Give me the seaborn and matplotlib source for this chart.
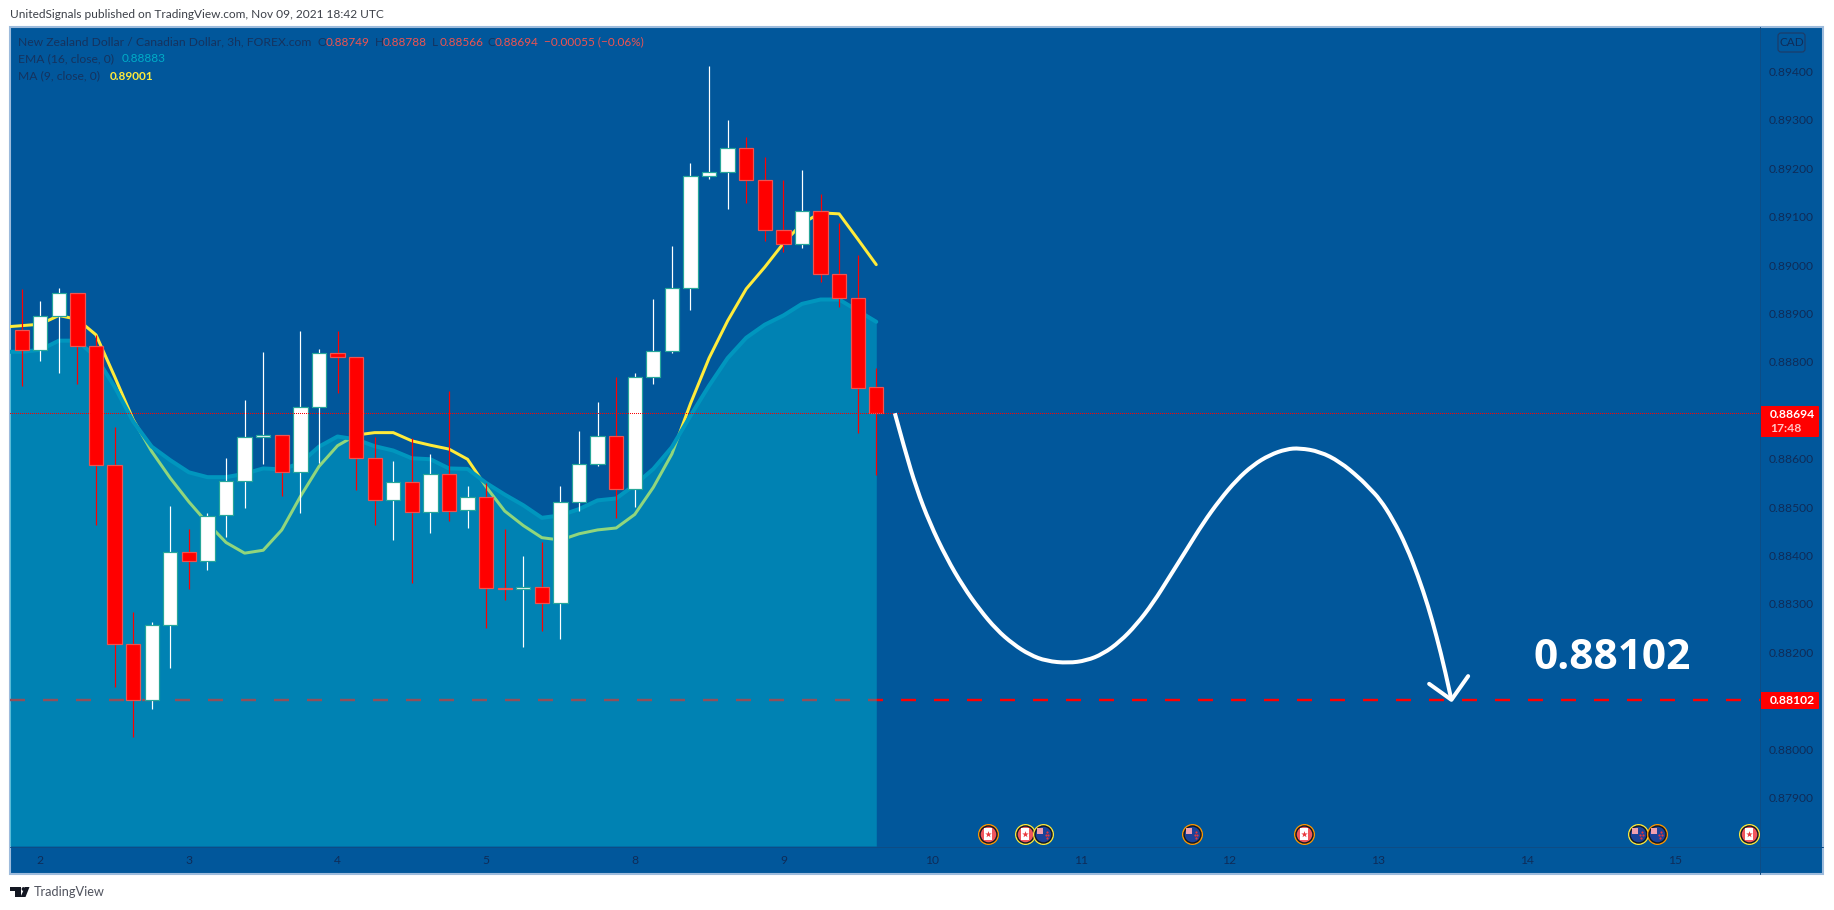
import matplotlib
matplotlib.use('Agg')
import matplotlib.pyplot as plt
import matplotlib.patches as mpatches
import matplotlib.transforms as mtrans
from matplotlib.path import Path
import numpy as np
import seaborn as sns

# candles, one row per 3h bar
opens = [.88867, .88824, .88894, .88943, .88832, .88588, .88217, .88101, .88256, .88408, .88388, .88483,
         .88555, .88644, .88650, .88572, .88706, .88819, .88811, .88601, .88514, .88553, .88491, .88569,
         .88494, .88521, .88333, .88331, .88336, .88301, .88510, .88589, .88648, .88537, .88769, .88822,
         .88952, .89184, .89192, .89242, .89175, .89072, .89043, .89112, .88981, .88932, .88749]
highs = [.88950, .88926, .88953, .88943, .88856, .88665, .88283, .88263, .88502, .88454, .88487, .88601,
         .88721, .88821, .88650, .88864, .88826, .88864, .88811, .88646, .88595, .88642, .88609, .88739,
         .88544, .88550, .88455, .88399, .88429, .88544, .88657, .88718, .88769, .88777, .88930, .89039,
         .89211, .89412, .89300, .89265, .89223, .89175, .89197, .89148, .89088, .89022, .88788]
lows = [.88751, .88803, .88778, .88755, .88463, .88129, .88026, .88084, .88168, .88330, .88371, .88439,
        .88499, .88590, .88524, .88487, .88592, .88736, .88536, .88463, .88433, .88344, .88447, .88472,
        .88456, .88251, .88309, .88212, .88244, .88227, .88492, .88586, .88478, .88500, .88754, .88819,
        .88908, .89177, .89115, .89129, .89050, .89027, .89036, .88965, .88914, .88653, .88566]
closes = [.88824, .88894, .88943, .88832, .88588, .88217, .88101, .88256, .88408, .88388, .88482, .88555,
          .88644, .88650, .88572, .88706, .88819, .88811, .88601, .88514, .88553, .88491, .88569, .88493,
          .88520, .88332, .88331, .88336, .88301, .88510, .88589, .88648, .88537, .88769, .88822, .88952,
          .89184, .89192, .89242, .89175, .89072, .89043, .89112, .88981, .88932, .88747, .88694]

# indicators start one bar before the first candle, off the left edge
ma_vals = [.88872, .88875, .88878, .88896, .88888, .88856, .88770, .88681, .88615, .88560, .88511, .88467,
           .88427, .88405, .88411, .88453, .88522, .88584, .88627, .88649, .88654, .88654, .88637, .88628,
           .88620, .88599, .88542, .88492, .88462, .88437, .88432, .88445, .88453, .88457, .88485, .88541,
           .88610, .88714, .88808, .88885, .88951, .88996, .89045, .89086, .89108, .89106, .89054, .89001]
ema_vals = [.88821, .88821, .88825, .88844, .88844, .88810, .88749, .88677, .88625, .88597, .88572, .88562,
            .88562, .88569, .88580, .88578, .88591, .88625, .88646, .88640, .88626, .88617, .88601, .88599,
            .88580, .88579, .88550, .88526, .88504, .88478, .88483, .88496, .88514, .88518, .88546, .88579,
            .88624, .88689, .88751, .88808, .88850, .88877, .88896, .88920, .88929, .88929, .88906, .88883]

# hand drawn projection
curve_bars = [47.0, 47.54, 48.16, 48.88, 49.78, 50.68, 51.57, 52.47, 53.37, 54.26, 55.16, 56.33, 57.31, 58.21,
              59.11, 60.0, 60.9, 61.8, 62.7, 63.59, 64.49, 65.39, 66.28, 67.18, 68.08, 68.79, 69.87, 70.95,
              72.02, 72.55, 73.1, 73.82, 74.54, 75.17, 75.71, 76.16, 76.61, 76.96]
curve_vals = [.88694, .88618, .88539, .88467, .88395, .88336, .88288, .88247, .88217, .88195, .88182, .88178,
              .88183, .88197, .88222, .88257, .88302, .88357, .88412, .88467, .88515, .88556, .88587, .88608,
              .88620, .88622, .88615, .88594, .88560, .88539, .88517, .88474, .88419, .88357, .88295, .88233,
              .88164, .88102]
wing_bars = [75.76, 76.96, 77.86]
wing_vals = [.88135, .88102, .88151]

last_price = 0.88694
target_price = 0.88102

price_ticks = [.879, .880, .882, .883, .884, .885, .886, .888, .889, .890, .891, .892, .893, .894]
day_bars = [1, 9, 17, 25, 33, 41, 49, 57, 65, 73, 81, 89]
day_labels = ['2', '3', '4', '5', '8', '9', '10', '11', '12', '13', '14', '15']

event_bars = [52, 54, 55, 63, 69, 87, 88, 93]
event_flags = ['CA', 'CA', 'NZ', 'NZ', 'CA', 'NZ', 'NZ', 'CA']
event_rings = ['#ff9800', '#ffeb3b', '#ffeb3b', '#ff9800', '#ff9800', '#ffeb3b', '#ff9800', '#ffeb3b']

BG = '#01579b'
AREA = '#00bcd4'
YELLOW = '#ffeb3b'
TEXT_DIM = '#15335f'
TICK_DIM = '#0f2c58'
FONT = 'Lato'
PX = 0.72  # one pixel in points at dpi 100

sns.set_theme(style='white', rc={'lines.scale_dashes': False})
plt.rcParams['font.family'] = [FONT, 'DejaVu Sans']

fig = plt.figure(figsize=(18.34, 9.10), dpi=100, facecolor='white')

# overlay in plain pixels for the frame, badges and header texts
back = fig.add_axes([0, 0, 1, 1], zorder=0)
back.set_xlim(0, 1834)
back.set_ylim(910, 0)
back.axis('off')
back.add_patch(mpatches.Rectangle((10, 27), 1813, 847, fc=BG, ec='#9dbbdc', lw=1.5))

ax = fig.add_axes([10 / 1834, 1 - 846 / 910, 1750 / 1834, 819 / 910], zorder=1)
ax.patch.set_alpha(0)
ax.set_xlim(-0.63, 93.57)
ax.set_ylim(0.87800, 0.89492)
sns.despine(ax=ax, left=True, bottom=True, top=True, right=True)

# levels and MA sit under the translucent area
ax.plot([-0.63, 93.57], [target_price, target_price], color='#ff0000', lw=2.4 * PX,
        ls=(0, (15 * PX, 18 * PX)), dash_capstyle='butt', zorder=1)
bars_ind = np.arange(-1, len(opens))
sns.lineplot(x=bars_ind, y=ma_vals, color=YELLOW, lw=3 * PX, ax=ax, zorder=2, estimator=None, legend=False)
ax.fill_between(bars_ind, ema_vals, 0.87800, color=AREA, alpha=0.43, lw=0, zorder=3)
sns.lineplot(x=bars_ind, y=ema_vals, color='#0096be', lw=4 * PX, ax=ax, zorder=3, estimator=None, legend=False)

bars = np.arange(len(opens))
opens_a, closes_a = np.array(opens), np.array(closes)
up = closes_a >= opens_a
ax.vlines(bars[up], np.array(lows)[up], np.array(highs)[up], color='white', lw=1.2 * PX, zorder=4)
ax.vlines(bars[~up], np.array(lows)[~up], np.array(highs)[~up], color='#ff0000', lw=1.2 * PX, zorder=4)
ax.bar(bars[up], (closes_a - opens_a)[up], bottom=opens_a[up], width=0.77,
       color='white', edgecolor='#26a69a', lw=1.2 * PX, zorder=5)
ax.bar(bars[~up], (closes_a - opens_a)[~up], bottom=opens_a[~up], width=0.77,
       color='#ff0000', edgecolor='#ef5350', lw=1.2 * PX, zorder=5)

ax.plot([-0.63, 93.57], [last_price, last_price], color='#ff0000', lw=1 * PX,
        ls=(0, (1 * PX, 2 * PX)), dash_capstyle='butt', antialiased=False, zorder=6)


def smooth_path(xs, ys):
    # the read points act as quadratic control points, so the stroke stays round
    pts = list(zip(xs, ys))
    verts, codes = [pts[0]], [Path.MOVETO]
    for i in range(1, len(pts) - 1):
        end = pts[-1] if i == len(pts) - 2 else ((pts[i][0] + pts[i + 1][0]) / 2, (pts[i][1] + pts[i + 1][1]) / 2)
        verts += [pts[i], end]
        codes += [Path.CURVE3, Path.CURVE3]
    return Path(verts, codes)


ax.add_patch(mpatches.PathPatch(smooth_path(curve_bars, curve_vals), fc='none', ec='white', lw=4 * PX, zorder=7,
                                capstyle='butt'))
sns.lineplot(x=wing_bars, y=wing_vals, sort=False, estimator=None, color='white', lw=4 * PX, ax=ax, zorder=7,
             legend=False)
ax.text(85.6, 0.88187, '0.88102', color='white', fontsize=30.5, fontweight='bold', family='Open Sans',
        ha='center', va='center', zorder=7)

# event flags along the bottom edge of the pane
flag_trans = mtrans.blended_transform_factory(ax.transData, ax.transAxes)


def shifted(dx, dy):
    return flag_trans + mtrans.ScaledTranslation(dx / 100, dy / 100, fig.dpi_scale_trans)


# custom markers get rescaled to their largest coordinate, so the size below is 0.64 of the flag disc
band = Path([(-0.55, -0.8), (0.55, -0.8), (0.55, 0.8), (-0.55, 0.8), (-0.55, -0.8)], closed=True)
fy = 0.015
for bar, flag, ring in zip(event_bars, event_flags, event_rings):
    ax.scatter([bar], [fy], s=228, color=ring, lw=0, transform=flag_trans, zorder=8, clip_on=False)
    ax.scatter([bar], [fy], s=177, color='#131722', lw=0, transform=flag_trans, zorder=8)
    if flag == 'CA':
        ax.scatter([bar], [fy], s=125, color='#f0575c', lw=0, transform=flag_trans, zorder=8)
        ax.scatter([bar], [fy], s=85, color='white', marker=band, lw=0, transform=flag_trans, zorder=8)
        ax.scatter([bar], [fy], s=24, color='#e8373c', marker='*', lw=0, transform=flag_trans, zorder=8)
    else:
        ax.scatter([bar], [fy], s=125, color='#1a4299', lw=0, transform=flag_trans, zorder=8)
        ax.scatter([bar], [fy], s=22, color='#f0a0b0', marker='s', lw=0, transform=shifted(-3, 3.2), zorder=8)
        for dx, dy in [(4, 2), (2.5, -1.5), (5, -1), (3.5, -4)]:
            ax.scatter([bar], [fy], s=2.5, color='#e8373c', lw=0, transform=shifted(dx, dy), zorder=8)

ax.yaxis.tick_right()
ax.set_yticks(price_ticks)
ax.set_yticklabels([f'{p:.5f}' for p in price_ticks], fontsize=8.7, color=TICK_DIM)
ax.set_xticks(day_bars)
ax.set_xticklabels(day_labels, fontsize=8.7, color=TICK_DIM)
ax.tick_params(axis='both', length=0)
ax.tick_params(axis='y', pad=6.5)
ax.tick_params(axis='x', pad=6.5)
ax.grid(False)

# pixel overlay above the pane
top = fig.add_axes([0, 0, 1, 1], zorder=2)
top.patch.set_alpha(0)
top.set_xlim(0, 1834)
top.set_ylim(910, 0)
top.axis('off')
top.plot([1760, 1760], [27, 874], color='#0d4c85', lw=1 * PX)
top.plot([10, 1823], [846.5, 846.5], color='#0d4c85', lw=1 * PX)

for y0, y1 in [(406, 437), (692, 709)]:
    top.add_patch(mpatches.FancyBboxPatch((1761, y0 + 1), 57, y1 - y0 - 2, boxstyle='round,pad=1,rounding_size=1',
                                          fc='#ff0000', ec='none'))
top.text(1770, 415, f'{last_price:.5f}', color='white', fontsize=8.7, fontweight='bold', va='center')
top.text(1770, 428, '17:48', color='#ffc4c4', fontsize=8.7, fontweight='bold', va='center')
top.text(1770, 700.5, f'{target_price:.5f}', color='white', fontsize=8.7, fontweight='bold', va='center')

top.add_patch(mpatches.FancyBboxPatch((1780, 35), 23, 15, boxstyle='round,pad=2,rounding_size=3',
                                      fc='none', ec='#1d3c68', lw=1.2 * PX))
top.text(1791.5, 42.5, 'CAD', color=TICK_DIM, fontsize=8.5, ha='center', va='center')

top.text(10, 15, 'UnitedSignals published on TradingView.com, Nov 09, 2021 18:42 UTC', color='#3c4048', fontsize=8.6,
         va='center')

LEG = 8.7
NUM = 8.5
RED_TXT = '#ef5350'
top.text(18, 42, 'New Zealand Dollar / Canadian Dollar, 3h, FOREX.com', color=TEXT_DIM, fontsize=LEG, va='center')
for x, s, c in [(317, 'O', TEXT_DIM), (326, '0.88749', RED_TXT), (375, 'H', TEXT_DIM), (383, '0.88788', RED_TXT),
                (432, 'L', TEXT_DIM), (440, '0.88566', RED_TXT), (487.5, 'C', TEXT_DIM), (495, '0.88694', RED_TXT),
                (544, '\u22120.00055 (\u22120.06%)', RED_TXT)]:
    top.text(x, 42, s, color=c, fontsize=NUM, va='center')
top.text(18, 59, 'EMA (16, close, 0)', color=TEXT_DIM, fontsize=LEG, va='center')
top.text(121.4, 59, '0.88883', color='#00acc8', fontsize=NUM, va='center')
top.text(18, 76, 'MA (9, close, 0)', color=TEXT_DIM, fontsize=LEG, va='center')
top.text(109.4, 76, '0.89001', color=YELLOW, fontsize=NUM, va='center', fontweight='bold')

# TradingView logo and wordmark
logo = '#131722'
top.add_patch(mpatches.Polygon([(10, 887), (21, 887), (21, 897), (15, 897), (15, 891), (10, 891)], fc=logo, ec='none'))
top.add_patch(mpatches.Circle((23.5, 889), 1.9, fc=logo, ec='none'))
top.add_patch(mpatches.Polygon([(25, 887), (29.5, 887), (25.5, 897), (20.5, 897)], fc=logo, ec='none'))
top.text(34, 892.5, 'TradingView', color='#50535e', fontsize=9.2, va='center')

fig.savefig('out.png', dpi=100)
